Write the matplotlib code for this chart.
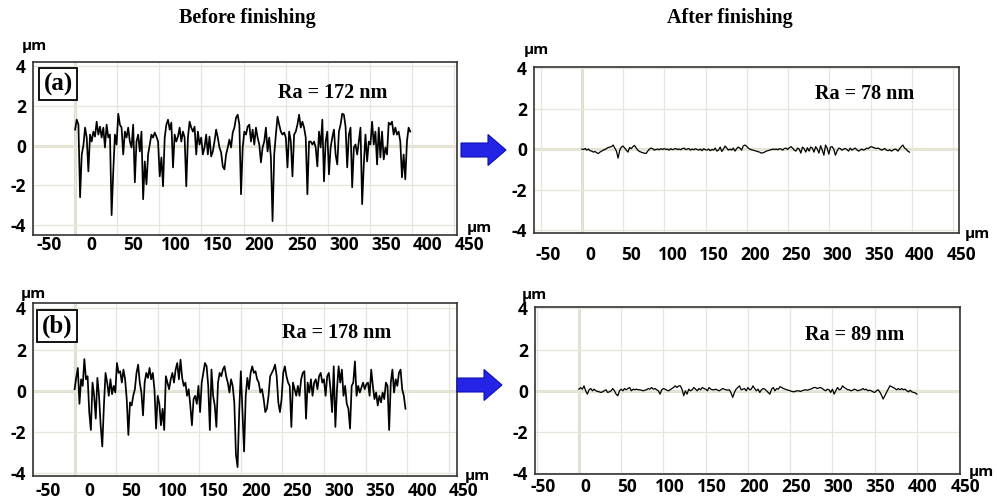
import numpy as np
import matplotlib
matplotlib.use("Agg")
import matplotlib.pyplot as plt
import matplotlib.transforms as mtrans
from matplotlib.patches import FancyArrow

# ---------------- data (µm) ----------------
a_before = [0.8, 1.3, 1.05, -2.6, -0.45, 0.0, 0.9, 0.4, -1.3, 0.55,
            0.2, 0.7, 0.45, 1.2, 0.55, 0.95, 0.4, 0.9, -0.1, 1.05,
            0.4, 0.55, -3.5, -1.3, 0.55, 0.05, 1.6, 1.05, 0.9, -0.45,
            0.7, 0.4, 0.9, 0.2, -0.1, 1.05, -1.85, 0.2, 0.55, -0.3,
            0.7, -2.7, -0.8, -1.95, -0.45, 0.05, 0.55, 0.4, 0.65, 0.45,
            0.2, -1.55, -0.6, -2.05, 0.4, 1.05, 1.3, 0.8, 1.15, -1.1,
            0.55, 0.2, 0.45, 0.9, 0.2, 0.7, 0.4, -2.05, 0.4, 1.2,
            0.9, 0.7, 0.95, -0.45, 0.7, 0.05, 0.4, -0.45, -0.1, 0.55,
            -0.45, 0.45, -0.55, -0.3, 0.2, 0.8, 0.4, -0.1, -0.35, -1.05,
            -1.2, -0.45, -0.1, 0.3, -0.1, 0.65, 0.9, 1.4,
            1.55, 1.05, -2.45, -0.1, 0.7, 0.55, 0.95, 1.05, 0.2, 0.8,
            0.05, 0.9, 0.4, 0.05, -0.85, -0.1, 0.2, 0.9, -0.3, 0.4,
            -0.6, -3.8, -0.45, 0.55, 1.45, 1.05, 0.7, 0.55, 0.65, 0.4,
            -1.1, 0.7, 0.2, -1.55, 0.55, 0.7, 1.05, 1.55, 0.9, 1.2,
            0.9, 0.4, -2.45, 0.2, 0.2, 0.05, 0.2, -0.1, -1.05, 0.7,
            -0.1, 1.3, -1.8, 0.2, 0.7, -1.45, -0.1, 0.4, 0.8, -0.45,
            -0.95, 0.7, 1.05, 1.6, 1.55, 0.95, -1.1, 0.55, 0.9, -2.1,
            -0.1, 0.05, -0.45, 0.2, 0.9, -2.95, -0.95, 0.55, -0.8, 0.2,
            0.05, 1.2, 0.05, 0.7, -0.95, 0.9, -0.6, 0.7, -0.7, -0.1,
            -0.45, 1.15, 1.05, 1.2, 0.55, 0.9, 0.55, 0.7, 0.2, -1.6,
            -0.45, -1.7, 0.2, 0.9, 0.7]

b_before = [0.08, 0.63, 1.11, -0.63, 0.56, 0.24, 1.54, 0.56, 0.71, -1.03,
            -1.9, 0.4, -0.24, -1.35, 0.63, -0.24, -1.67, -2.7, -0.71, 0.87,
            0.4, -0.24, 0.56, -0.16, 0.24, -0.08, 1.35, 0.87, 0.95, 0.4,
            1.03, 0.56, -0.4, -2.14, -0.56, -0.71, -0.24, 0.08, 0.87, 1.27,
            0.4, -0.08, -1.19, 0.4, 0.87, 0.63, 1.11, 0.56, 0.87, 0.08,
            -1.83, -0.24, -0.63, -1.67, -0.87, -1.9, 0.71, 0.4, 0.08, 0.56,
            0.87, 0.4, 1.03, 1.35, 0.56, 1.51, 0.63, 0.24, 0.4, -0.24,
            0.08, -0.71, -1.67, -0.4, -0.24, -0.63, 0.24, -1.03, 0.4, 0.87,
            1.35, 1.19, 0.24, -1.9, 1.03, -0.24, -0.71, -1.75, 0.4, 0.87,
            0.71, 1.03, 1.19, 0.71, 0.4, -0.08, 0.56, 0.24, -0.56, -3.1,
            -3.7, -1.03, 0.95, -1.03, -2.94, -0.24, 0.63, 0.08, 0.87, 1.19,
            0.87, 0.95, 0.56, 0.4, -0.08, 0.08, -0.4, -1.03, -0.87, -0.24,
            0.71, 0.87, 1.03, 1.27, 0.71, -0.56, -1.03, -0.4, 0.87, 1.19,
            0.71, 0.4, 0.24, -1.75, 0.4, 0.08, -0.24, 0.24, -0.24, 0.56,
            0.87, 0.95, -1.35, 0.4, -0.08, 0.56, -0.24, 0.4, 0.56, 0.08,
            0.71, 0.87, 0.4, 0.56, -0.24, 0.71, 0.87, 0.08, -1.03, 1.19,
            -1.75, 0.08, 1.19, 0.4, 1.03, -0.24, 0.24, -0.63, -0.87, -1.83,
            0.24, 0.4, 1.43, -0.24, 0.24, -0.08, 0.16, 0.4, 0.08, 0.32,
            0.4, -0.24, 1.03, 0.24, -0.4, -0.08, -0.71, -0.24, -0.56, -0.08,
            -0.4, 0.4, 0.24, -1.9, 0.4, 1.03, -0.08, 0.56, 0.24, 0.87,
            1.03, 0.08, -0.24, -0.87]

a_after = [0.0, -0.02, 0.03, -0.05, 0.0, -0.08, -0.1, -0.15, -0.12, -0.18,
           -0.22, -0.15, -0.1, -0.05, -0.02, 0.03, 0.08, 0.1, 0.12, 0.2,
           0.05, -0.1, -0.45, -0.05, 0.1, 0.15, 0.05, -0.05, -0.15, 0.08,
           0.02, 0.12, 0.18, 0.05, -0.05, -0.12, -0.15, -0.18, -0.2, -0.22,
           -0.1, 0.0, 0.05, 0.02, -0.05, -0.02, 0.0, -0.03, 0.02, -0.02,
           0.03, -0.02, 0.0, -0.05, 0.02, -0.03, 0.0, 0.03, -0.02, 0.0,
           -0.03, 0.02, 0.05, -0.02, 0.0, 0.03, -0.05, 0.0, -0.03, 0.02,
           -0.02, -0.05, 0.0, -0.08, 0.02, -0.03, -0.05, 0.0, -0.08, -0.02,
           -0.05, 0.05, -0.1, -0.05, 0.1, -0.12, 0.0, 0.15, 0.05, -0.05,
           0.0, -0.05, 0.05, -0.1, 0.02, 0.1, 0.05, -0.05, 0.15, 0.2,
           0.15, 0.05, 0.0, -0.03, -0.05, -0.08, -0.1, -0.13, -0.15, -0.2,
           -0.18, -0.15, -0.1, -0.08, -0.05, -0.03, 0.0, -0.02, 0.0, -0.03,
           0.02, 0.0, -0.05, 0.03, 0.05, -0.02, 0.07, 0.12, 0.05, -0.05,
           -0.1, 0.05, 0.0, -0.2, 0.1, 0.02, -0.15, 0.07, -0.1, 0.1,
           0.05, -0.15, 0.12, 0.0, -0.2, 0.17, -0.05, -0.3, 0.2, 0.05,
           -0.25, 0.1, 0.12, 0.0, -0.3, -0.1, 0.05, 0.02, -0.05, 0.0,
           0.03, -0.02, -0.1, 0.05, -0.05, 0.0, 0.05, -0.03, -0.1, -0.05,
           0.0, -0.05, -0.02, 0.05, 0.02, 0.1, 0.12, 0.08, 0.05, 0.03,
           0.05, 0.0, -0.05, -0.02, 0.03, -0.05, -0.08, -0.03, -0.1, -0.05,
           0.0, -0.02, -0.1, 0.02, 0.12, 0.2, 0.05, 0.0, -0.1, -0.15]

b_after = [0.08, 0.15, 0.08, 0.24, 0.0, -0.16, 0.05, 0.11, 0.0, 0.08,
           0.0, -0.03, -0.05, -0.08, -0.05, 0.0, 0.05, -0.08, -0.05, 0.0,
           0.11, 0.0, -0.16, -0.24, 0.0, 0.08, 0.0, 0.11, 0.05, 0.11,
           0.16, 0.0, 0.08, 0.05, 0.08, 0.05, 0.05, 0.03, 0.0, 0.03,
           0.05, 0.11, 0.08, 0.16, 0.08, 0.11, 0.05, 0.0, -0.16, 0.05,
           0.11, 0.08, 0.03, 0.0, 0.05, 0.11, 0.16, 0.24, 0.16, 0.24,
           0.24, 0.08, -0.24, 0.0, -0.16, 0.08, 0.0, 0.05, 0.16, 0.08,
           0.0, 0.11, 0.05, 0.16, 0.11, 0.08, 0.0, 0.16, 0.08, 0.05,
           0.05, 0.08, 0.03, 0.0, 0.05, 0.11, 0.08, 0.05, 0.03, 0.05,
           -0.1, -0.32, -0.08, 0.08, 0.16, 0.24, 0.05, 0.08, 0.11, 0.0,
           0.16, 0.05, 0.08, 0.24, 0.11, 0.0, 0.08, -0.08, 0.05, 0.11,
           0.08, 0.0, -0.08, -0.16, 0.08, 0.16, 0.0, 0.11, 0.08, 0.2,
           0.16, 0.11, 0.08, 0.05, 0.03, 0.0, -0.03, -0.05, -0.03, 0.0,
           0.0, -0.03, 0.0, 0.03, 0.05, 0.03, 0.05, 0.08, 0.11, 0.16,
           0.16, 0.11, 0.14, 0.16, 0.11, 0.05, 0.0, 0.08, 0.05, -0.08,
           0.08, -0.16, 0.0, 0.16, 0.05, 0.08, 0.24, 0.16, 0.11, 0.05,
           0.05, 0.0, 0.03, 0.08, 0.05, 0.0, 0.03, 0.05, 0.11, 0.05,
           0.08, 0.0, 0.03, 0.0, -0.05, -0.08, 0.0, 0.05, -0.05, -0.2,
           -0.4, -0.24, -0.08, 0.08, 0.24, 0.2, 0.16, 0.11, 0.05, 0.11,
           0.05, 0.11, 0.05, 0.08, 0.0, -0.05, 0.03, -0.05, -0.08, -0.1,
           -0.16]

# scan extents (µm)
a_before_span = (0, 398)
b_before_span = (0, 398)
a_after_span = (0, 397)
b_after_span = (0, 400)

ra_labels = ["Ra = 172 nm", "Ra = 78 nm", "Ra = 178 nm", "Ra = 89 nm"]
x_ticks = [-50, 0, 50, 100, 150, 200, 250, 300, 350, 400, 450]
y_ticks = [-4, -2, 0, 2, 4]
titles = ["Before finishing", "After finishing"]

# ---------------- figure ----------------
W, H = 997, 504
fig = plt.figure(figsize=(W / 100, H / 100), dpi=100)
fig.patch.set_facecolor("white")

SANS = ["Open Sans", "DejaVu Sans"]
SERIF = ["Liberation Serif", "DejaVu Serif"]


def px_rect(l, t, r, b):
    return [l / W, 1 - b / H, (r - l) / W, (b - t) / H]


panels = [
    dict(data=a_before, span=a_before_span, rect=(33, 62, 457, 235),
         xlim=(-50, 453.5), ylim=(-4.5, 4.2), xoff=16, xpad=1, lw=1.25),
    dict(data=a_after, span=a_after_span, rect=(534, 67, 959, 233),
         xlim=(-58, 457), ylim=(-4.15, 4.06), xoff=8, xpad=9, lw=0.9),
    dict(data=b_before, span=b_before_span, rect=(33, 303, 457, 476),
         xlim=(-49.2, 460), ylim=(-4.13, 4.26), xoff=15, xpad=4, lw=1.25),
    dict(data=b_after, span=b_after_span, rect=(535, 307, 960, 474),
         xlim=(-52, 451), ylim=(-4.03, 4.06), xoff=6, xpad=3, lw=0.9),
]

for p in panels:
    ax = fig.add_axes(px_rect(*p["rect"]))
    vals = np.asarray(p["data"])
    xs = np.linspace(p["span"][0], p["span"][1], len(vals))
    ax.set_xlim(*p["xlim"])
    ax.set_ylim(*p["ylim"])
    ax.set_xticks(x_ticks)
    ax.set_yticks(y_ticks)
    ax.set_xticklabels([str(v) for v in x_ticks])
    ax.set_yticklabels([str(v) for v in y_ticks])
    ax.grid(True, color="#e6e6dc", lw=0.9, zorder=0)
    ax.axvline(0, color="#dcdccc", lw=2.2, zorder=0.5)
    ax.axhline(0, color="#e4e2cc", lw=2.2, zorder=0.5)
    ax.plot(xs, vals, color="black", lw=p["lw"], zorder=3)
    ax.tick_params(length=0, labelsize=12.5, pad=p["xpad"], axis="x")
    ax.tick_params(length=0, labelsize=12.5, pad=5, axis="y")
    for lab in ax.get_xticklabels() + ax.get_yticklabels():
        lab.set_fontfamily(SANS)
        lab.set_fontweight("bold")
    off = mtrans.ScaledTranslation(p["xoff"] / 100, 0, fig.dpi_scale_trans)
    for lab in ax.get_xticklabels():
        lab.set_transform(lab.get_transform() + off)
    for s in ax.spines.values():
        s.set_color("#333333")
        s.set_linewidth(1.2)

# ---------------- overlay (annotations) ----------------
ov = fig.add_axes([0, 0, 1, 1], facecolor="none")
ov.set_xlim(0, W)
ov.set_ylim(H, 0)
ov.axis("off")

ov.text(247, 18, titles[0], ha="center", va="center", fontsize=14.5,
        fontweight="bold", family=SERIF)
ov.text(730, 18, titles[1], ha="center", va="center", fontsize=14.5,
        fontweight="bold", family=SERIF)

ra_pos = [(333, 93), (865, 94), (337, 333), (855, 335)]
for (x, y), s in zip(ra_pos, ra_labels):
    ov.text(x, y, s, ha="center", va="center", fontsize=14.5,
            fontweight="bold", family=SERIF)

for (x, y), s in zip([(58, 84), (57, 326)], ["(a)", "(b)"]):
    ov.text(x, y, s, ha="center", va="center", fontsize=18, fontweight="bold",
            family=SERIF,
            bbox=dict(boxstyle="square,pad=0.18", fc="white", ec="black", lw=1.3))

for (x, y) in [(34, 46), (536, 50), (33, 294), (534, 295)]:
    ov.text(x, y, "µm", ha="center", va="center", fontsize=11,
            fontweight="bold", family=SANS)
for (x, y) in [(479, 228), (977, 234), (477, 476), (981, 472)]:
    ov.text(x, y, "µm", ha="center", va="center", fontsize=11,
            fontweight="bold", family=SANS)

for (x0, x1, y) in [(461, 506, 150), (457, 502, 385)]:
    ov.add_patch(FancyArrow(x0, y, x1 - x0, 0, width=14, head_width=31,
                            head_length=18, length_includes_head=True,
                            fc="#2424e6", ec="#1010b0", lw=0.8))

fig.savefig("out.png", dpi=100, facecolor="white")
